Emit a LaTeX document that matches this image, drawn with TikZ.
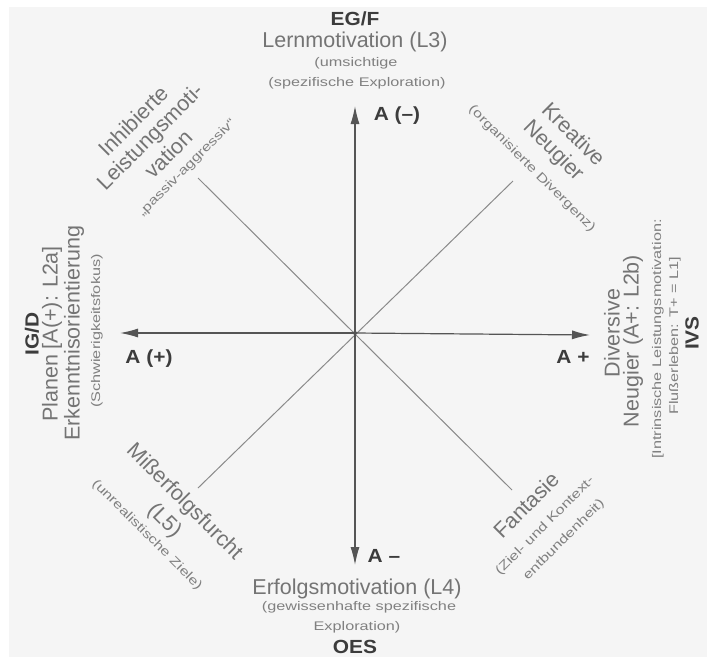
\documentclass[tikz,border=0pt]{standalone}
\usepackage{fontspec}
\setmainfont{Liberation Sans}
\newfontfamily\smallf[FakeStretch=1.3]{Liberation Sans}
\newfontfamily\headf[FakeStretch=1.1]{Liberation Sans}
\usetikzlibrary{arrows.meta}
\definecolor{bgc}{HTML}{F5F5F5}
\definecolor{headc}{HTML}{3C3C3C}
\definecolor{mainc}{HTML}{747474}
\definecolor{smallc}{HTML}{808080}
\definecolor{axc}{HTML}{555555}
\definecolor{linec}{HTML}{8A8A8A}
\begin{document}
\begin{tikzpicture}[x=1pt,y=-1pt,
  hd/.style={font=\headf\bfseries\fontsize{19}{22}\selectfont, text=headc, inner sep=0pt},
  mn/.style={font=\fontsize{21.5}{24}\selectfont, text=mainc, inner sep=0pt},
  sm/.style={font=\smallf\fontsize{12.5}{15}\selectfont, text=smallc, inner sep=0pt},
  ax/.style={draw=axc, line width=1.2pt, -{Latex[length=18pt,width=9pt]}},
  dg/.style={draw=linec, line width=1pt}]
\useasboundingbox (0,0) rectangle (707,657);
\fill[bgc] (0,0) rectangle (707,657);
\fill[white] (0,0) rectangle (707,7);
\fill[white] (0,0) rectangle (9,657);

% axes
\coordinate (c) at (355,333);
\coordinate (top) at (355,106);
\coordinate (bot) at (355,565);
\coordinate (lft) at (120,333);
\coordinate (rgt) at (590,335);
\coordinate (nw) at (198,178);
\coordinate (ne) at (513,181);
\coordinate (sw) at (198,488);
\coordinate (se) at (512,490);
\draw[dg] (nw) -- (se);
\draw[dg] (ne) -- (sw);
\draw[ax] (c) -- (top);
\draw[ax] (c) -- (bot);
\draw[ax] (c) -- (lft);
\draw[ax] (c) -- (rgt);
\fill[axc] (c) circle (2pt);

% axis labels
\node[hd] (am) at (397,116) {A (–)};
\node[hd] (ap) at (149,359) {A (+)};
\node[hd] (apl) at (573,357) {A +};
\node[hd] (amn) at (384,556) {A –};

% top
\node[hd] (egf) at (355,19) {EG/F};
\node[mn] (t1) at (355,42) {Lernmotivation (L3)};
\node[sm] (t2) at (356,63) {(umsichtige};
\node[sm] (t3) at (357,83) {(spezifische Exploration)};

% bottom
\node[mn] (b1) at (357,589) {Erfolgsmotivation (L4)};
\node[sm] (b2) at (359,607) {(gewissenhafte spezifische};
\node[sm] (b3) at (357,627) {Exploration)};
\node[hd] (oes) at (355,647) {OES};

% left
\node[hd, rotate=90] (igd) at (32,334) {IG/D};
\node[mn, rotate=90] (l1) at (52,334) {Planen [A(+): L2a]};
\node[mn, rotate=90] (l2) at (74,333) {Erkenntnisorientierung};
\node[sm, rotate=90] (l3) at (97,331) {(Schwierigkeitsfokus)};

% right
\node[mn, rotate=90] (r1) at (612,333) {Diversive};
\node[mn, rotate=90] (r2) at (633,341) {Neugier (A+: L2b)};
\node[sm, rotate=90] (r3) at (658,339) {[Intrinsische Leistungsmotivation:};
\node[sm, rotate=90] (r4) at (675,336) {Flußerleben: T+ = L1]};
\node[hd, rotate=90] (ivs) at (692,333) {IVS};

% NW
\node[mn, rotate=45] (nw1) at (133,121) {Inhibierte};
\node[mn, rotate=45] (nw2) at (151,138) {Leistungsmoti-};
\node[mn, rotate=45] (nw3) at (168,154) {vation};
\node[sm, rotate=45] (nw4) at (187,168) {„passiv-aggressiv“};

% NE
\node[mn, rotate=-45] (ne1) at (574,134) {Kreative};
\node[mn, rotate=-45] (ne2) at (553,151) {Neugier};
\node[sm, rotate=-45] (ne3) at (532,169) {(organisierte Divergenz)};

% SW
\node[mn, rotate=-45] (sw1) at (184,502) {Mißerfolgsfurcht};
\node[mn, rotate=-45] (sw2) at (164,521) {(L5)};
\node[sm, rotate=-45] (sw3) at (147,535) {(unrealistische Ziele)};

% SE
\node[mn, rotate=45] (se1) at (526,505) {Fantasie};
\node[sm, rotate=45] (se2) at (545,526) {(Ziel- und Kontext-};
\node[sm, rotate=45] (se3) at (564,540) {entbundenheit)};
\end{tikzpicture}
\end{document}
